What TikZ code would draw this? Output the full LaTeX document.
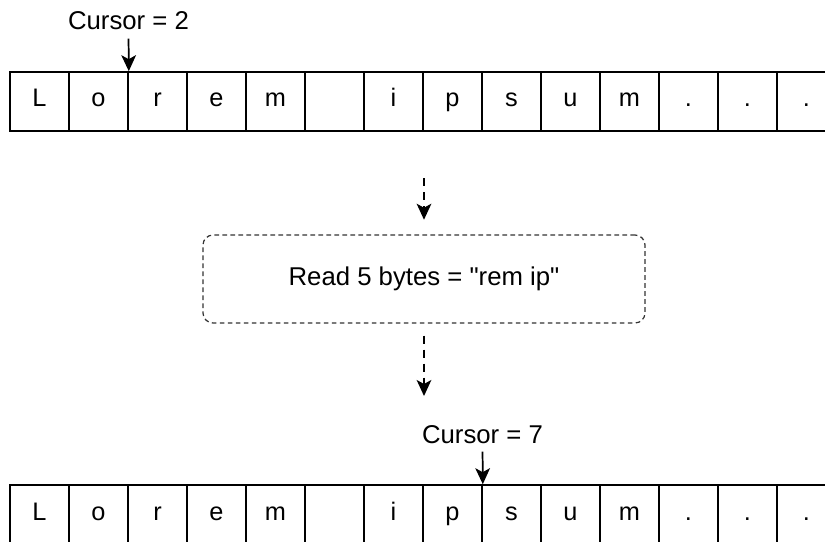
\documentclass[tikz,border=0pt]{standalone}
\usepackage{fontspec}
\setmainfont{Liberation Sans}[Ligatures=TeXOff]
\usetikzlibrary{arrows.meta}

\tikzset{
	cell/.style={rectangle, draw=black, line width=1.2pt, minimum width=44.25pt, minimum height=44.25pt, inner sep=0pt, text height=12pt, text depth=3.75pt, font=\fontsize{19}{23}\selectfont},
	cursorLabel/.style={inner sep=0pt, font=\fontsize{19.3}{23}\selectfont},
	cursorArrow/.style={line width=1.3pt, shorten <=6pt, -{Stealth[length=12pt, width=11pt, inset=3pt]}},
	stepArrow/.style={line width=1.3pt, dash pattern=on 6pt off 4.5pt, -{Stealth[length=12pt, width=11pt, inset=3pt]}},
	readBox/.style={rectangle, draw=black!80, line width=0.9pt, dash pattern=on 3.5pt off 2.5pt, rounded corners=7.5pt, minimum width=331.5pt, minimum height=66pt, font=\fontsize{19.3}{23}\selectfont}
}

\begin{document}
\begin{tikzpicture}[x=0.75pt, y=-0.75pt]
	\useasboundingbox (0,0) rectangle (825,542);

	% buffer before and after the read
	\foreach \ch [count=\i from 0] in {L,o,r,e,m,{},i,p,s,u,m,.,.,.}{
		\node[cell](topCell\i) at (39.5+59*\i,101.5){\ch};
		\node[cell](botCell\i) at (39.5+59*\i,514.5){\ch};
	}

	\node[cursorLabel, anchor=base](cursorTop) at (128.5,30){Cursor = 2};
	\draw[cursorArrow](cursorTop.south) -- (topCell1.north east);

	\node[readBox](readBox) at (424,279){Read 5 bytes = "rem ip"};

	\coordinate (stepOneStart) at (424,178);
	\coordinate (stepTwoEnd) at (424,396);
	\draw[stepArrow, shorten >=11pt](stepOneStart) -- (readBox.north);
	\draw[stepArrow, shorten <=9pt](readBox.south) -- (stepTwoEnd);

	\node[cursorLabel, anchor=base](cursorBot) at (482.5,443){Cursor = 7};
	\draw[cursorArrow](cursorBot.south) -- (botCell7.north east);

\end{tikzpicture}
\end{document}
